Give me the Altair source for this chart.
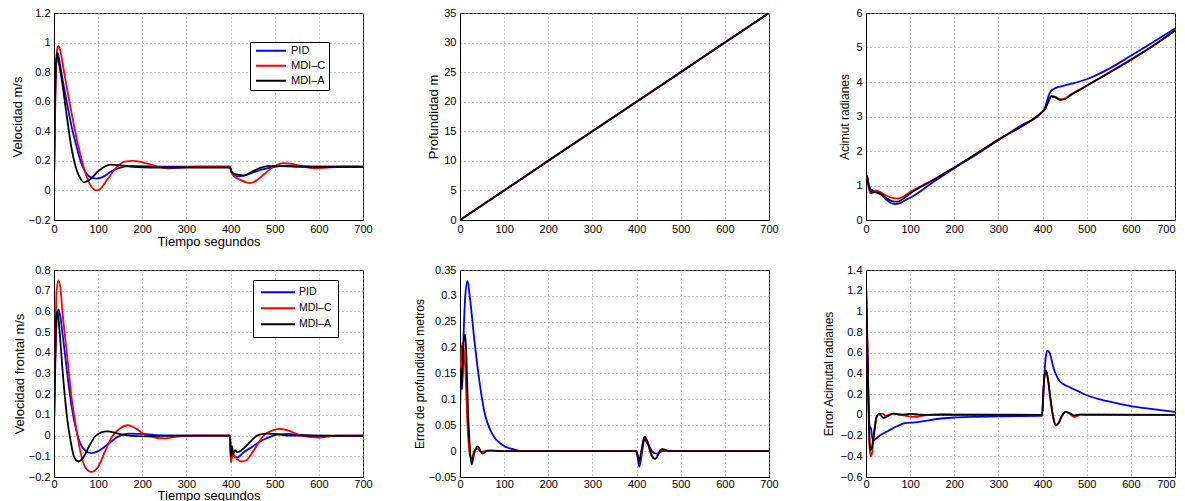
import altair as alt
import pandas as pd

SERIES = ["PID", "MDI–C", "MDI–A"]
COLORS = ["#0000ff", "#ff0000", "#000000"]
XTICKS = [0, 100, 200, 300, 400, 500, 600, 700]

# ---- Panel 1: Velocidad m/s
vel_pid_t = [0, 2, 5, 8, 12, 20, 30, 40, 50, 60, 70, 80, 95, 110, 130, 150, 175, 200, 250, 300, 399, 401, 405, 415, 430, 450, 470, 500, 530, 560, 600, 650, 700]
vel_pid_v = [0.05, 0.5, 0.85, 0.93, 0.88, 0.74, 0.58, 0.43, 0.31, 0.2, 0.13, 0.095, 0.08, 0.09, 0.13, 0.155, 0.165, 0.165, 0.16, 0.16, 0.16, 0.14, 0.11, 0.095, 0.1, 0.12, 0.14, 0.16, 0.168, 0.165, 0.16, 0.16, 0.16]
vel_mdic_t = [0, 3, 7, 10, 14, 20, 30, 40, 50, 60, 70, 80, 90, 97, 105, 120, 140, 160, 180, 200, 230, 260, 290, 320, 399, 401, 410, 420, 435, 445, 460, 480, 500, 520, 540, 560, 590, 620, 650, 700]
vel_mdic_v = [0.05, 0.6, 0.95, 0.975, 0.95, 0.85, 0.68, 0.52, 0.37, 0.24, 0.13, 0.05, 0.008, 0.0, 0.01, 0.07, 0.15, 0.195, 0.2, 0.19, 0.165, 0.15, 0.155, 0.16, 0.16, 0.13, 0.09, 0.075, 0.055, 0.05, 0.07, 0.12, 0.165, 0.185, 0.18, 0.165, 0.15, 0.155, 0.16, 0.16]
vel_mdia_t = [0, 2, 6, 10, 20, 30, 40, 50, 60, 68, 80, 100, 128, 150, 180, 220, 300, 399, 401, 410, 420, 430, 445, 465, 485, 510, 550, 700]
vel_mdia_v = [0.05, 0.6, 0.93, 0.88, 0.7, 0.48, 0.28, 0.15, 0.08, 0.055, 0.07, 0.13, 0.175, 0.17, 0.16, 0.155, 0.155, 0.155, 0.13, 0.11, 0.105, 0.1, 0.12, 0.15, 0.165, 0.165, 0.16, 0.16]

# ---- Panel 2: Profundidad m
prof_t = [0, 100, 200, 300, 400, 500, 600, 700]
prof_v = [0, 5, 10, 15, 20, 25, 30, 35]

# ---- Panel 3: Acimut radianes
aci_pid_t = [0, 3, 8, 15, 25, 35, 45, 55, 65, 75, 90, 110, 150, 200, 250, 300, 350, 400, 405, 410, 415, 420, 430, 445, 465, 480, 500, 550, 600, 650, 700]
aci_pid_v = [1.3, 1.2, 0.95, 0.85, 0.8, 0.72, 0.6, 0.5, 0.46, 0.48, 0.58, 0.72, 1.08, 1.5, 1.9, 2.32, 2.73, 3.14, 3.25, 3.45, 3.65, 3.75, 3.83, 3.88, 3.95, 4.0, 4.08, 4.38, 4.76, 5.15, 5.55]
aci_mdic_t = [0, 3, 6, 10, 15, 22, 30, 40, 50, 60, 70, 80, 100, 150, 200, 300, 400, 405, 412, 420, 428, 440, 450, 465, 480, 500, 550, 600, 650, 700]
aci_mdic_v = [1.3, 1.2, 0.95, 0.78, 0.8, 0.85, 0.83, 0.75, 0.68, 0.64, 0.62, 0.65, 0.81, 1.15, 1.52, 2.33, 3.14, 3.2, 3.4, 3.6, 3.58, 3.5, 3.52, 3.65, 3.75, 3.9, 4.27, 4.65, 5.05, 5.5]
aci_mdia_t = aci_mdic_t
aci_mdia_v = [1.3, 1.25, 1.0, 0.85, 0.8, 0.8, 0.78, 0.7, 0.6, 0.54, 0.53, 0.58, 0.77, 1.14, 1.52, 2.33, 3.14, 3.2, 3.4, 3.58, 3.56, 3.48, 3.5, 3.63, 3.74, 3.89, 4.26, 4.64, 5.04, 5.49]

# ---- Panel 4: Velocidad frontal m/s
vf_pid_t = [0, 3, 6, 10, 14, 20, 30, 40, 50, 60, 70, 85, 100, 120, 145, 170, 200, 250, 300, 399, 400.5, 403, 408, 415, 430, 452, 470, 485, 505, 530, 560, 620, 700]
vf_pid_v = [0.05, 0.35, 0.55, 0.61, 0.58, 0.48, 0.3, 0.14, 0.03, -0.04, -0.07, -0.085, -0.075, -0.045, -0.005, 0.01, 0.008, 0.0, 0.0, 0.0, -0.12, -0.08, -0.1, -0.105, -0.08, -0.05, -0.025, -0.01, 0.005, 0.008, 0.003, -0.002, -0.003]
vf_mdic_t = [0, 3, 6, 10, 14, 20, 30, 40, 50, 60, 70, 85, 100, 115, 130, 150, 167, 185, 210, 250, 280, 320, 399, 400.5, 405, 415, 425, 435, 450, 475, 495, 510, 530, 560, 600, 640, 700]
vf_mdic_v = [0.05, 0.45, 0.7, 0.75, 0.72, 0.58, 0.38, 0.18, 0.04, -0.08, -0.15, -0.175, -0.15, -0.08, -0.01, 0.035, 0.05, 0.035, 0.0, -0.013, -0.005, 0.0, 0.0, -0.13, -0.09, -0.115, -0.125, -0.12, -0.08, 0.0, 0.025, 0.032, 0.025, 0.0, -0.01, 0.0, 0.0]
vf_mdia_t = [0, 3, 5, 8, 12, 20, 30, 38, 45, 55, 65, 80, 95, 120, 145, 170, 200, 250, 399, 400.5, 403, 406, 410, 415, 425, 440, 460, 480, 500, 530, 700]
vf_mdia_v = [0.05, 0.4, 0.57, 0.6, 0.52, 0.3, 0.08, -0.03, -0.1, -0.125, -0.11, -0.05, 0.0, 0.02, 0.01, 0.0, -0.004, 0.0, 0.0, -0.1, -0.05, -0.09, -0.07, -0.08, -0.07, -0.04, 0.0, 0.01, 0.008, 0.0, 0.0]

# ---- Panel 5: Error de profundidad metros
ep_pid_t = [0, 2, 5, 8, 12, 17, 22, 32, 44, 55, 74, 96, 123, 140, 200, 399, 403, 406, 411, 418, 425, 435, 445, 460, 480, 700]
ep_pid_v = [0.12, 0.14, 0.12, 0.22, 0.3, 0.329, 0.3, 0.219, 0.135, 0.077, 0.032, 0.012, 0.003, 0.0, 0.0, 0.0, -0.015, -0.03, -0.01, 0.022, 0.015, 0.0, -0.005, 0.0, 0.0, 0.0]
ep_mdic_t = [0, 3, 6, 8, 12, 17, 22, 26, 32, 40, 48, 56, 70, 90, 130, 399, 403, 406, 411, 418, 425, 435, 442, 455, 470, 490, 700]
ep_mdic_v = [0.08, 0.19, 0.21, 0.2, 0.16, 0.05, -0.005, -0.015, 0.0, 0.005, -0.002, 0.0, 0.001, 0.0, 0.0, 0.0, -0.01, -0.02, 0.0, 0.026, 0.015, -0.01, -0.015, 0.003, 0.0, 0.0, 0.0]
ep_mdia_t = [0, 2, 4, 7, 10, 12, 15, 18, 21, 26, 32, 40, 51, 62, 75, 100, 399, 403, 406, 411, 418, 425, 435, 442, 458, 475, 495, 700]
ep_mdia_v = [0.06, 0.16, 0.12, 0.2, 0.22, 0.225, 0.17, 0.08, 0.026, -0.026, -0.005, 0.009, -0.005, 0.001, 0.001, 0.0, 0.0, -0.01, -0.02, 0.0, 0.028, 0.018, -0.01, -0.015, 0.004, 0.0, 0.0, 0.0]

# ---- Panel 6: Error Acimutal radianes
ea_pid_t = [0, 2, 5, 8, 11, 16, 25, 35, 50, 70, 88, 110, 130, 156, 200, 250, 300, 399, 403, 407, 411, 416, 425, 440, 460, 480, 500, 530, 560, 600, 650, 700]
ea_pid_v = [1.28, 0.9, 0.3, -0.11, -0.13, -0.25, -0.22, -0.19, -0.155, -0.11, -0.08, -0.072, -0.06, -0.042, -0.025, -0.018, -0.013, -0.01, 0.3, 0.55, 0.62, 0.6, 0.45, 0.32, 0.27, 0.23, 0.19, 0.15, 0.12, 0.085, 0.055, 0.028]
ea_mdic_t = [0, 2, 5, 8, 10, 13, 18, 24, 30, 38, 45, 55, 65, 80, 95, 110, 125, 140, 170, 200, 399, 402, 405, 408, 412, 418, 424, 430, 436, 445, 452, 462, 472, 485, 500, 700]
ea_mdic_v = [1.28, 0.9, 0.2, -0.3, -0.4, -0.38, -0.2, -0.02, 0.01, 0.01, -0.01, 0.005, 0.012, 0.0, -0.012, -0.02, -0.01, 0.0, 0.008, 0.005, 0.0, 0.25, 0.4, 0.42, 0.35, 0.15, -0.02, -0.1, -0.08, 0.0, 0.03, 0.01, -0.02, 0.0, 0.005, 0.0]
ea_mdia_t = [0, 2, 5, 8, 10, 13, 18, 24, 30, 40, 50, 62, 75, 90, 100, 120, 150, 399, 402, 405, 408, 412, 418, 424, 430, 436, 445, 452, 462, 472, 485, 500, 700]
ea_mdia_v = [1.28, 0.9, 0.25, -0.25, -0.34, -0.32, -0.18, -0.02, 0.01, -0.03, -0.01, 0.012, 0.003, 0.005, 0.01, 0.003, 0.0, 0.0, 0.25, 0.4, 0.43, 0.35, 0.15, -0.02, -0.1, -0.08, 0.0, 0.03, 0.015, -0.005, 0.005, 0.0, 0.0]

FONT = "Liberation Sans"
W, H = 309, 207


def panel(series, ydom, yvals, ytitle, ytitle_x, ytitle_size, xtitle=None, xtitle_y=0,
          legend=None, xlabel_pad=3, last_right=False):
    rows = []
    for name, (ts, vs) in zip(SERIES, series):
        for t, v in zip(ts, vs):
            rows.append({"t": t, "v": v, "serie": name})
    df = pd.DataFrame(rows)
    xkw = dict(values=XTICKS, format="d", grid=True, ticks=False, labelPadding=xlabel_pad,
               labelBaseline="top", labelFlush=False)
    if last_right:
        xkw["labelAlign"] = alt.condition("datum.value == 700", alt.value("right"), alt.value("center"))
    if xtitle:
        xkw.update(title=xtitle, titleY=xtitle_y, titleBaseline="middle", titleFontSize=13)
    else:
        xkw.update(title=None)
    ykw = dict(values=yvals, format="~g", grid=True, ticks=False, labelPadding=4, labelFlush=False,
               title=ytitle, titleX=ytitle_x, titleBaseline="middle", titleAlign="center",
               titleFontSize=ytitle_size)
    ckw = dict(scale=alt.Scale(domain=SERIES, range=COLORS))
    if legend:
        ckw["legend"] = alt.Legend(orient="none", legendX=legend["x"], legendY=legend["y"], title=None,
                                   strokeColor="black", fillColor="white", padding=legend["pad"],
                                   symbolType="stroke", symbolSize=legend["sym"] ** 2,
                                   symbolStrokeWidth=2, symbolOffset=legend["so"],
                                   labelFontSize=legend["fs"], labelFont=FONT,
                                   labelColor="black", rowPadding=legend["rp"],
                                   labelOffset=legend["lo"], clipHeight=legend["ch"])
    else:
        ckw["legend"] = None
    return alt.Chart(df).mark_line(strokeWidth=1.8, interpolate="monotone", clip=True).encode(
        x=alt.X("t:Q", scale=alt.Scale(domain=[0, 700], nice=False, zero=False), axis=alt.Axis(**xkw)),
        y=alt.Y("v:Q", scale=alt.Scale(domain=ydom, nice=False, zero=False), axis=alt.Axis(**ykw)),
        color=alt.Color("serie:N", **ckw),
    ).properties(width=W, height=H)


p1 = panel([(vel_pid_t, vel_pid_v), (vel_mdic_t, vel_mdic_v), (vel_mdia_t, vel_mdia_v)],
           [-0.2, 1.2], [-0.2, 0, 0.2, 0.4, 0.6, 0.8, 1, 1.2], "Velocidad m/s", -37, 13,
           xtitle="Tiempo segundos", xtitle_y=21,
           legend=dict(x=196, y=29, pad=3, sym=30, so=2, fs=11, rp=2, ch=11.5, lo=4))
p2 = panel([(prof_t, prof_v), (prof_t, prof_v), (prof_t, prof_v)],
           [0, 35], [0, 5, 10, 15, 20, 25, 30, 35], "Profundidad m", -27, 13)
p3 = panel([(aci_pid_t, aci_pid_v), (aci_mdic_t, aci_mdic_v), (aci_mdia_t, aci_mdia_v)],
           [0, 6], [0, 1, 2, 3, 4, 5, 6], "Acimut radianes", -22, 12, last_right=True)
p4 = panel([(vf_pid_t, vf_pid_v), (vf_mdic_t, vf_mdic_v), (vf_mdia_t, vf_mdia_v)],
           [-0.2, 0.8], [-0.2, -0.1, 0, 0.1, 0.2, 0.3, 0.4, 0.5, 0.6, 0.7, 0.8],
           "Velocidad frontal  m/s", -35, 13, xtitle="Tiempo segundos", xtitle_y=18.5,
           legend=dict(x=199, y=10, pad=6, sym=34, so=1, fs=10.5, rp=3, ch=12.5, lo=3), xlabel_pad=1)
p5 = panel([(ep_pid_t, ep_pid_v), (ep_mdic_t, ep_mdic_v), (ep_mdia_t, ep_mdia_v)],
           [-0.05, 0.35], [-0.05, 0, 0.05, 0.1, 0.15, 0.2, 0.25, 0.3, 0.35],
           "Error de profundidad metros", -41, 12, xlabel_pad=1)
p6 = panel([(ea_pid_t, ea_pid_v), (ea_mdic_t, ea_mdic_v), (ea_mdia_t, ea_mdia_v)],
           [-0.6, 1.4], [-0.6, -0.4, -0.2, 0, 0.2, 0.4, 0.6, 0.8, 1, 1.2, 1.4],
           "Error Acimutal radianes", -38, 12, xlabel_pad=1, last_right=True)

chart = alt.concat(p1, p2, p3, p4, p5, p6, columns=3, spacing={"row": 50, "column": 97},
                   bounds="flush").resolve_scale(color="independent").resolve_legend(
    color="independent").properties(
    padding={"left": 2, "top": -2, "right": 0, "bottom": 0}, background="white"
).configure_view(stroke="black", strokeWidth=1).configure_axis(
    domainColor="black", domainWidth=1, gridColor="#8a8a8a", gridDash=[1, 3], gridOpacity=1,
    gridWidth=1, labelFont=FONT, labelFontSize=11, labelColor="black", titleFont=FONT,
    titleFontWeight="normal", titleColor="black"
)

chart.save("out.html", embed_options={"renderer": "svg", "actions": False})
